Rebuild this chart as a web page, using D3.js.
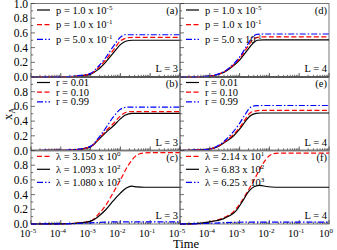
<!DOCTYPE html>
<html>
<head>
<meta charset="utf-8">
<script src="https://cdn.jsdelivr.net/npm/d3@7"></script>
<style>
  body { margin: 0; background: #fff; }
  svg text { font-family: "Liberation Serif", "Times New Roman", Times, serif !important; fill: #000; }
</style>
</head>
<body>
<svg id="chart" width="337" height="250"></svg>
<script>
// log10(time) -> x_A
var a_black = [[-5,0],[-4,0.002],[-3.5,0.01],[-3,0.04],[-2.75,0.1],[-2.5,0.2],[-2.25,0.32],[-2,0.44],[-1.8,0.49],[-1.6,0.5],[0,0.5]];
var a_red   = [[-5,0],[-4,0.002],[-3.5,0.012],[-3,0.045],[-2.75,0.12],[-2.5,0.23],[-2.25,0.36],[-2,0.49],[-1.8,0.53],[-1.6,0.54],[0,0.54]];
var a_blue  = [[-5,0],[-4,0.002],[-3.5,0.014],[-3,0.05],[-2.75,0.14],[-2.5,0.26],[-2.25,0.41],[-2,0.54],[-1.85,0.575],[-1.7,0.575],[0,0.575]];
var d_black = [[-5,0],[-4.5,0.003],[-4,0.012],[-3.75,0.03],[-3.5,0.07],[-3.25,0.14],[-3,0.23],[-2.75,0.36],[-2.55,0.46],[-2.4,0.5],[-2.2,0.505],[0,0.505]];
var d_red   = [[-5,0],[-4.5,0.003],[-4,0.013],[-3.75,0.033],[-3.5,0.075],[-3.25,0.15],[-3,0.25],[-2.75,0.4],[-2.55,0.51],[-2.4,0.54],[-2.2,0.545],[0,0.545]];
var d_blue  = [[-5,0],[-4.5,0.003],[-4,0.014],[-3.75,0.036],[-3.5,0.08],[-3.25,0.16],[-3,0.27],[-2.75,0.43],[-2.55,0.55],[-2.42,0.58],[-2.2,0.585],[0,0.585]];
var b_black = [[-5,0],[-4,0.002],[-3.5,0.01],[-3,0.05],[-2.68,0.17],[-2.5,0.24],[-2.25,0.33],[-2,0.43],[-1.85,0.48],[-1.6,0.505],[0,0.505]];
var b_red   = [[-5,0],[-4,0.002],[-3.5,0.011],[-3,0.055],[-2.68,0.18],[-2.5,0.26],[-2.25,0.36],[-2,0.47],[-1.8,0.52],[-1.6,0.53],[0,0.53]];
var b_blue  = [[-5,0],[-4,0.002],[-3.5,0.013],[-3,0.06],[-2.68,0.2],[-2.5,0.3],[-2.25,0.45],[-2,0.56],[-1.85,0.585],[-1.7,0.59],[0,0.59]];
var e_black = [[-5,0],[-4.5,0.004],[-4,0.02],[-3.7,0.06],[-3.43,0.13],[-3.2,0.2],[-3,0.29],[-2.8,0.4],[-2.65,0.47],[-2.45,0.505],[-2.3,0.51],[0,0.51]];
var e_red   = [[-5,0],[-4.5,0.004],[-4,0.021],[-3.7,0.063],[-3.43,0.14],[-3.2,0.22],[-3,0.31],[-2.8,0.43],[-2.65,0.51],[-2.45,0.54],[-2.3,0.545],[0,0.545]];
var e_blue  = [[-5,0],[-4.5,0.004],[-4,0.022],[-3.7,0.07],[-3.43,0.16],[-3.2,0.26],[-3,0.37],[-2.8,0.5],[-2.62,0.59],[-2.45,0.61],[-2.3,0.612],[0,0.612]];
var c_red   = [[-5,0],[-4,0.002],[-3.5,0.01],[-3,0.04],[-2.7,0.15],[-2.5,0.25],[-2.25,0.42],[-2,0.6],[-1.75,0.79],[-1.5,0.92],[-1.3,0.96],[-1,0.97],[0,0.97]];
var c_black = [[-5,0],[-4,0.002],[-3.5,0.01],[-3,0.04],[-2.75,0.1],[-2.5,0.19],[-2.25,0.31],[-2,0.42],[-1.8,0.49],[-1.62,0.515],[-1.45,0.505],[-1.2,0.5],[0,0.5]];
var c_blue  = [[-5,0],[-4,0.002],[-3.5,0.006],[-3,0.015],[-2.5,0.025],[-2,0.03],[0,0.03]];
var f_red   = [[-5,0],[-4.5,0.004],[-4,0.03],[-3.5,0.09],[-3.25,0.15],[-3,0.27],[-2.75,0.43],[-2.5,0.61],[-2.25,0.8],[-2,0.93],[-1.8,0.96],[-1.5,0.965],[0,0.965]];
var f_black = [[-5,0],[-4.5,0.004],[-4,0.03],[-3.5,0.08],[-3.1,0.19],[-2.9,0.31],[-2.68,0.45],[-2.5,0.51],[-2.32,0.525],[-2.1,0.51],[-1.8,0.5],[0,0.5]];
var f_blue  = [[-5,0],[-4.5,0.003],[-4,0.01],[-3.5,0.018],[-3,0.024],[-2.5,0.025],[0,0.025]];

var legend_a = [["p = 1.0 x 10","-5"],["p = 1.0 x 10","-1"],["p = 5.0 x 10","-1"]];
var legend_b = [["r = 0.01",""],["r = 0.10",""],["r = 0.99",""]];
var legend_c = [["\u03bb = 3.150 x 10","0"],["\u03bb = 1.093 x 10","2"],["\u03bb = 1.080 x 10","3"]];
var legend_f = [["\u03bb = 2.14 x 10","1"],["\u03bb = 6.83 x 10","2"],["\u03bb = 6.25 x 10","3"]];
var x_ticks = [-5,-4,-3,-2,-1,0];
var y_ticks = [0,0.2,0.4,0.6,0.8,1.0];

var styles = {
    black: {color: "#000", dash: null},
    red:   {color: "#ff0000", dash: "5,2.5"},
    blue:  {color: "#0000ff", dash: "6,2,1.5,2"}
};

var panels = [
    {col: 0, row: 0, tag: "(a)", L: 3, series: [["black",a_black],["red",a_red],["blue",a_blue]], legend: legend_a, order: ["black","red","blue"], y0: 6.5, gap: 14.7},
    {col: 1, row: 0, tag: "(d)", L: 4, series: [["black",d_black],["red",d_red],["blue",d_blue]], legend: legend_a, order: ["black","red","blue"], y0: 6.5, gap: 14.7},
    {col: 0, row: 1, tag: "(b)", L: 3, series: [["black",b_black],["red",b_red],["blue",b_blue]], legend: legend_b, order: ["black","red","blue"], y0: 5.5, gap: 9.7},
    {col: 1, row: 1, tag: "(e)", L: 4, series: [["black",e_black],["red",e_red],["blue",e_blue]], legend: legend_b, order: ["black","red","blue"], y0: 5.5, gap: 9.7},
    {col: 0, row: 2, tag: "(c)", L: 3, series: [["red",c_red],["black",c_black],["blue",c_blue]], legend: legend_c, order: ["red","black","blue"], y0: 5.8, gap: 13},
    {col: 1, row: 2, tag: "(f)", L: 4, series: [["red",f_red],["black",f_black],["blue",f_blue]], legend: legend_f, order: ["red","black","blue"], y0: 5.8, gap: 13}
];

var svg = d3.select("#chart");
var plot_left = 31, pw = 149, plot_top = 3.5, ph = 73.5;

var x = d3.scaleLinear().domain([-5, 0]).range([0, pw]);
var y = d3.scaleLinear().domain([0, 1]).range([ph, 0]);
var line = d3.line()
    .x(function(d) { return x(d[0]); })
    .y(function(d) { return y(d[1]); })
    .curve(d3.curveMonotoneX);

var minor = [];
x_ticks.slice(0, -1).forEach(function(t) {
    for (var k = 2; k <= 9; k++) { minor.push(t + Math.log10(k)); }
});

panels.forEach(function(p) {
    var g = svg.append("g")
        .attr("transform", "translate(" + (plot_left + p.col * pw) + "," + (plot_top + p.row * ph) + ")");

    g.append("rect")
        .attr("width", pw).attr("height", ph)
        .attr("fill", "none").attr("stroke", "#777").attr("stroke-width", 1);

    // touching panels: the shared edge reads as a dark line
    if (p.row < 2) {
        g.append("line")
            .attr("x1", 0).attr("x2", pw).attr("y1", ph).attr("y2", ph)
            .attr("stroke", "#111").attr("stroke-width", 1.3);
    }

    // ticks, pointing inward
    g.selectAll(".xmaj").data(x_ticks).enter().append("line")
        .attr("x1", function(d) { return x(d); }).attr("x2", function(d) { return x(d); })
        .attr("y1", ph).attr("y2", ph - 4)
        .attr("stroke", "#333").attr("stroke-width", 0.8);
    g.selectAll(".xmin").data(minor).enter().append("line")
        .attr("x1", function(d) { return x(d); }).attr("x2", function(d) { return x(d); })
        .attr("y1", ph).attr("y2", ph - 2.2)
        .attr("stroke", "#333").attr("stroke-width", 0.7);
    g.selectAll(".ymaj").data(d3.range(0, 1.01, 0.1)).enter().append("line")
        .attr("x1", 0).attr("x2", function(d, i) { return i % 2 ? 2.2 : 4; })
        .attr("y1", function(d) { return y(d); }).attr("y2", function(d) { return y(d); })
        .attr("stroke", "#333").attr("stroke-width", 0.7);

    p.series.forEach(function(s) {
        var st = styles[s[0]];
        g.append("path")
            .datum(s[1])
            .attr("d", line)
            .attr("fill", "none")
            .attr("stroke", st.color)
            .attr("stroke-width", 1.2)
            .attr("stroke-dasharray", st.dash);
    });

    // legend
    p.order.forEach(function(name, i) {
        var st = styles[name];
        var ly = p.y0 + i * p.gap;
        g.append("line")
            .attr("x1", 6).attr("x2", 19).attr("y1", ly).attr("y2", ly)
            .attr("stroke", st.color).attr("stroke-width", 1.2)
            .attr("stroke-dasharray", st.dash);
        var t = g.append("text")
            .attr("x", 25).attr("y", ly + 3.5)
            .style("font-size", "10.5px");
        t.append("tspan").text(p.legend[i][0]);
        if (p.legend[i][1]) {
            t.append("tspan").attr("dy", -4).style("font-size", "7px").text(p.legend[i][1]);
        }
    });

    g.append("text").attr("x", pw - 2).attr("y", 10).attr("text-anchor", "end")
        .style("font-size", "10.5px").text(p.tag);
    g.append("text").attr("x", pw - 2).attr("y", ph - 5).attr("text-anchor", "end")
        .style("font-size", "10.5px").text("L = " + p.L);

    if (p.col === 0) {
        g.selectAll(".ylab")
            .data(p.row === 0 ? y_ticks : y_ticks.slice(0, -1))
            .enter().append("text")
            .attr("x", -3).attr("y", function(d) { return y(d) + 4; })
            .attr("text-anchor", "end")
            .style("font-size", "11.5px")
            .text(function(d) { return d.toFixed(1); });
    }
    if (p.row === 2) {
        var xt = g.selectAll(".xlab")
            .data(p.col === 0 ? x_ticks.slice(0, -1) : x_ticks)
            .enter().append("text")
            .attr("x", function(d) { return x(d) - 3; }).attr("y", ph + 13)
            .attr("text-anchor", "middle")
            .style("font-size", "10.5px");
        xt.append("tspan").text("10");
        xt.append("tspan").attr("dy", -4.5).style("font-size", "7px")
            .text(function(d) { return d; });
    }
});

svg.append("text")
    .attr("x", 186).attr("y", 248).attr("text-anchor", "middle")
    .style("font-size", "12.5px").text("Time");

var yl = svg.append("text")
    .attr("transform", "translate(12," + (plot_top + 1.5 * ph) + ") rotate(-90)")
    .attr("text-anchor", "middle")
    .style("font-size", "12.5px");
yl.append("tspan").text("x");
yl.append("tspan").attr("dy", 3).style("font-size", "8.5px").text("A");
</script>
</body>
</html>
